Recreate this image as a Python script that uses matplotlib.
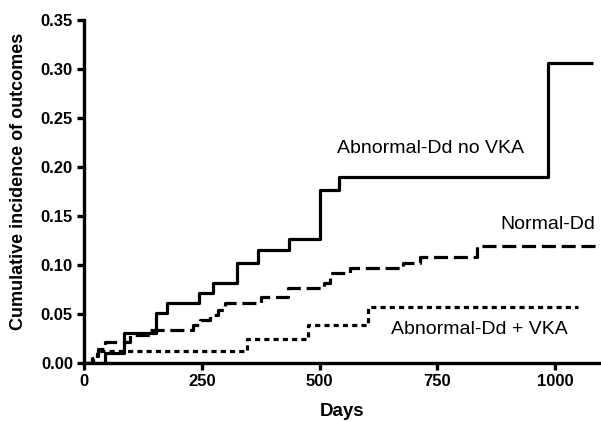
import matplotlib
matplotlib.use("Agg")
import matplotlib.pyplot as plt

plt.rcParams['font.family'] = ['Liberation Sans', 'DejaVu Sans']

# Abnormal-Dd no VKA (solid)
solid_days = [0, 45, 85, 153, 176, 244, 274, 325, 369, 435, 501, 541, 985, 1080]
solid_vals = [0.0, 0.0102, 0.0306, 0.051, 0.061, 0.071, 0.082, 0.102, 0.115, 0.127, 0.177, 0.190, 0.306, 0.306]

# Normal-Dd (dashed)
dash_days = [0, 18, 30, 45, 72, 98, 140, 232, 246, 267, 284, 299, 375, 432, 510, 522, 565, 678, 713, 834, 1095]
dash_vals = [0.0, 0.007, 0.014, 0.021, 0.021, 0.0286, 0.034, 0.039, 0.044, 0.049, 0.054, 0.061, 0.067, 0.0765,
             0.082, 0.092, 0.097, 0.102, 0.108, 0.119, 0.119]

# Abnormal-Dd + VKA (dotted)
dot_days = [0, 20, 28, 346, 476, 603, 1048]
dot_vals = [0.0, 0.005, 0.0118, 0.0245, 0.039, 0.057, 0.057]

xticks = [0, 250, 500, 750, 1000]
yticks = [0.00, 0.05, 0.10, 0.15, 0.20, 0.25, 0.30, 0.35]

fig = plt.figure(figsize=(6.01, 4.22), dpi=100)
ax = fig.add_axes([84/601, 59/422, (600-84)/601, (363-20)/422])

lw = 2.3
ax.step(solid_days, solid_vals, where='post', color='black', lw=lw, solid_capstyle='butt')
ax.step(dash_days, dash_vals, where='post', color='black', lw=lw, dashes=(4.4, 1.8), dash_capstyle='butt')
ax.step(dot_days, dot_vals, where='post', color='black', lw=lw, dashes=(1.6, 1.3), dash_capstyle='butt')

ax.set_xlim(0, 1095)
ax.set_ylim(0, 0.35)
ax.set_xticks(xticks)
ax.set_xticklabels([str(t) for t in xticks])
ax.set_yticks(yticks)
ax.set_yticklabels([f"{t:.2f}" for t in yticks])

for s in ['top', 'right']:
    ax.spines[s].set_visible(False)
for s in ['left', 'bottom']:
    ax.spines[s].set_linewidth(2.4)
ax.tick_params(width=2.4, length=5, labelsize=12, pad=3)
for lab in ax.get_xticklabels() + ax.get_yticklabels():
    lab.set_fontweight('bold')

ax.set_xlabel('Days', fontsize=13.5, fontweight='bold')
ax.set_ylabel('Cumulative incidence of outcomes', fontsize=13, fontweight='bold')
ax.xaxis.set_label_coords(0.5, -0.118)
ax.yaxis.set_label_coords(-0.110, 0.53)

ax.text(736, 0.219, 'Abnormal-Dd no VKA', fontsize=14, ha='center', va='center')
ax.text(985, 0.141, 'Normal-Dd', fontsize=14, ha='center', va='center')
ax.text(838, 0.034, 'Abnormal-Dd + VKA', fontsize=14, ha='center', va='center')

fig.savefig('out.png', dpi=100)
